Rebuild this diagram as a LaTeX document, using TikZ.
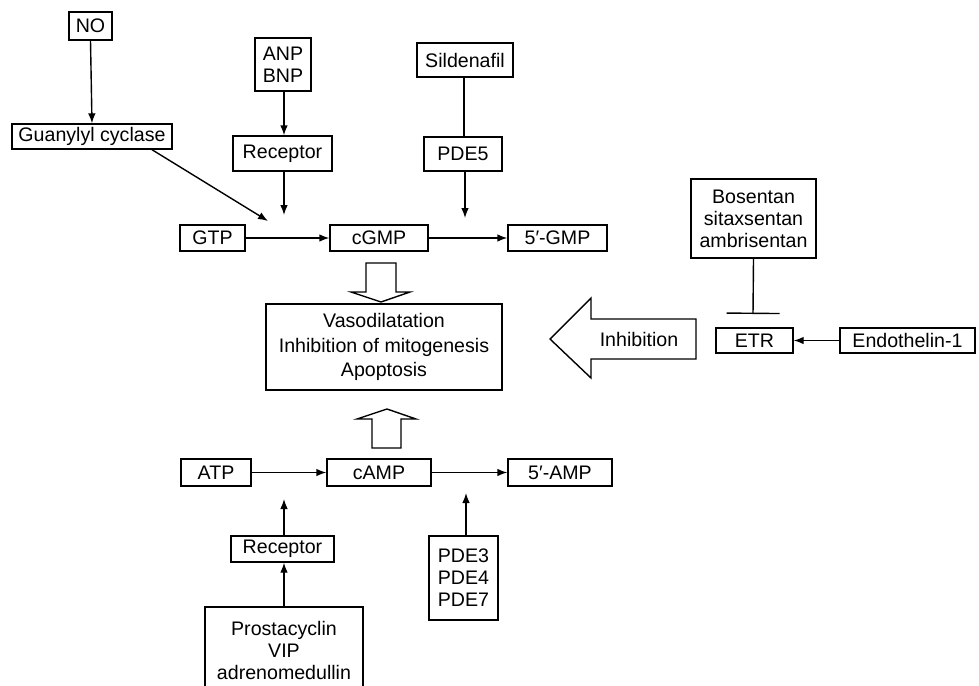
\documentclass[tikz,border=0pt]{standalone}
\usepackage{fontspec}
\setmainfont{Liberation Sans}
\usetikzlibrary{arrows.meta}
\tikzset{
  box/.style={draw, line width=0.7pt, inner sep=0pt, align=center,
    font=\fontsize{9.8}{11}\selectfont},
  arr/.style={-{Latex[length=5pt,width=3.8pt]}, line width=0.7pt},
  hollow/.style={draw, line width=0.7pt, fill=white}
}
\begin{document}
\begin{tikzpicture}[x=0.5pt, y=-0.5pt]
    \useasboundingbox (0,0) rectangle (979,685);
    % cGMP pathway
    \node [box, minimum width=21.5pt, minimum height=14pt] (no) at (90.5,26) {NO};
    \node [box, minimum width=80pt, minimum height=12.5pt] (gc) at (92,136.5) {Guanylyl cyclase};
    \node [box, minimum width=28pt, minimum height=26.5pt] (anp) at (283,64.5) {ANP\\BNP};
    \node [box, minimum width=49.5pt, minimum height=17.5pt] (rectop) at (282.5,153.5) {Receptor};
    \node [box, minimum width=48pt, minimum height=17pt] (sil) at (465,60) {Sildenafil};
    \node [box, minimum width=39pt, minimum height=17pt] (pde5) at (463,154) {PDE5};
    \node [box, minimum width=32.5pt, minimum height=13pt] (gtp) at (212.5,238) {GTP};
    \node [box, minimum width=49pt, minimum height=13pt] (cgmp) at (379,238) {cGMP};
    \node [box, minimum width=49.5pt, minimum height=13pt] (gmp) at (557.5,238) {5′-GMP};
    \coordinate (gin) at (268,221);
    \coordinate (rin) at (284,215);
    \coordinate (pin) at (465,218);
    \draw [arr] (no.south) -- (gc.north);
    \draw [arr] ([xshift=30pt]gc.south) -- (gin);
    \draw [arr] ([xshift=0.5pt]anp.south) -- ([xshift=0.75pt]rectop.north);
    \draw [arr] ([xshift=0.75pt]rectop.south) -- (rin);
    \draw [line width=0.7pt] ([xshift=-0.5pt]sil.south) -- ([xshift=0.5pt]pde5.north);
    \draw [arr] ([xshift=1pt]pde5.south) -- (pin);
    \draw [arr] (gtp.east) -- (cgmp.west);
    \draw [arr] (cgmp.east) -- (gmp.west);
    % effects
    \node [box, minimum width=118pt, minimum height=43pt,
      font=\fontsize{9.8}{12.3}\selectfont] (eff) at (384,347)
      {Vasodilatation\\Inhibition of mitogenesis\\Apoptosis};
    \draw [hollow] (366,263) -- (396,263) -- (396,292) -- (410,292) -- (381,302)
      -- (351,292) -- (366,292) -- cycle;
    \draw [hollow] (372,448) -- (401,448) -- (401,419) -- (416,419) -- (387,409)
      -- (357,419) -- (372,419) -- cycle;
    % endothelin
    \draw [hollow] (696,319) -- (591,319) -- (591,298) -- (550,339) -- (591,378)
      -- (591,359) -- (696,359) -- cycle;
    \node [font=\fontsize{9.8}{11}\selectfont] (inh) at (639,339) {Inhibition};
    \node [box, minimum width=62.5pt, minimum height=39.5pt] (bos) at (753.5,218.5)
      {Bosentan\\sitaxsentan\\ambrisentan};
    \node [box, minimum width=38.5pt, minimum height=12.5pt] (etr) at (754.5,340.5) {ETR};
    \node [box, minimum width=67.5pt, minimum height=12.5pt] (et1) at (907.5,340.5) {Endothelin-1};
    \coordinate (tbar) at (753,314);
    \draw [-{Bar[width=26.5pt]}, line width=0.7pt] (bos.south) -- (tbar);
    \draw [arr] (et1.west) -- (etr.east);
    % cAMP pathway
    \node [box, minimum width=35pt, minimum height=13.5pt] (atp) at (216,472.5) {ATP};
    \node [box, minimum width=52pt, minimum height=13.5pt] (camp) at (379,472.5) {cAMP};
    \node [box, minimum width=52pt, minimum height=13.5pt] (amp) at (560,472.5) {5′-AMP};
    \node [box, minimum width=51.5pt, minimum height=13pt] (recbot) at (282.5,549) {Receptor};
    \node [box, minimum width=34.5pt, minimum height=42pt] (pde) at (463.5,578) {PDE3\\PDE4\\PDE7};
    \node [box, minimum width=79pt, minimum height=43pt] (pros) at (284,650)
      {Prostacyclin\\VIP\\adrenomedullin};
    \coordinate (ain) at (284,499);
    \coordinate (din) at (466,493);
    \draw [arr] (atp.east) -- (camp.west);
    \draw [arr] (camp.east) -- (amp.west);
    \draw [arr] ([xshift=0.75pt]recbot.north) -- (ain);
    \draw [arr] (pros.north) -- ([xshift=0.75pt]recbot.south);
    \draw [arr] ([xshift=1.25pt]pde.north) -- (din);
\end{tikzpicture}
\end{document}
